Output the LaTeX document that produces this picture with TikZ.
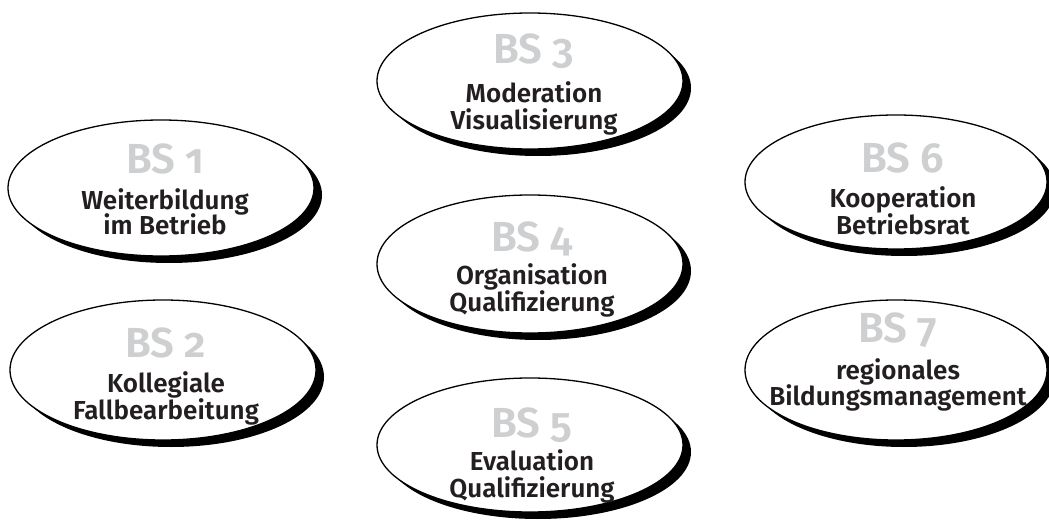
\documentclass[tikz,border=0pt]{standalone}
\usepackage{fontspec}
\IfFontExistsTF{Fira Sans SemiBold}
  {\setmainfont{Fira Sans}[BoldFont={Fira Sans SemiBold},Numbers=OldStyle]}
  {\setmainfont{Fira Sans}[Numbers=OldStyle]}
\usetikzlibrary{shapes.geometric,shadows}
\definecolor{bsgray}{RGB}{206,207,209}
\definecolor{txt}{RGB}{35,31,32}
\tikzset{
  bsell/.style={ellipse, draw=black, line width=1.3bp, fill=white,
    minimum width=306bp, minimum height=136bp, inner sep=0pt,
    drop shadow={shadow xshift=8bp, shadow yshift=-7bp, fill=black, opacity=1}},
  bsnum/.style={anchor=base, text=bsgray, inner sep=0pt,
    font=\fontsize{42bp}{42bp}\selectfont\bfseries},
  bstext/.style={anchor=base, text=txt, inner sep=0pt,
    font=\fontsize{26bp}{26bp}\selectfont\bfseries},
}
\begin{document}
\begin{tikzpicture}[x=1bp,y=-1bp]
\useasboundingbox (0,0) rectangle (1049,522);
% ellipses
\node[bsell] (e1) at (161,188) {};
\node[bsell, minimum height=140bp] (e2) at (163,370) {};
\node[bsell] (e3) at (530,81) {};
\node[bsell, minimum height=138bp] (e4) at (530,264) {};
\node[bsell, minimum height=134bp] (e5) at (530,445) {};
\node[bsell, minimum width=302bp, minimum height=134bp] (e6) at (896,182) {};
\node[bsell, minimum width=302bp, minimum height=140bp] (e7) at (896,370) {};
% BS 1
\node[bsnum] (n1) at (165,174) {BS 1};
\node[bstext] (a1) at (165,210) {Weiterbildung};
\node[bstext] (b1) at (165,235) {im Betrieb};
% BS 2
\node[bsnum] (n2) at (166,358) {BS 2};
\node[bstext] (a2) at (166,392) {Kollegiale};
\node[bstext] (b2) at (166,419) {Fallbearbeitung};
% BS 3
\node[bsnum] (n3) at (534,64) {BS 3};
\node[bstext] (a3) at (534,103) {Moderation};
\node[bstext] (b3) at (534,130) {Visualisierung};
% BS 4
\node[bsnum] (n4) at (532,252) {BS 4};
\node[bstext] (a4) at (532,285) {Organisation};
\node[bstext] (b4) at (532,312) {Qualifizierung};
% BS 5
\node[bsnum] (n5) at (532,437) {BS 5};
\node[bstext] (a5) at (532,470) {Evaluation};
\node[bstext] (b5) at (532,497) {Qualifizierung};
% BS 6
\node[bsnum] (n6) at (903,173) {BS 6};
\node[bstext] (a6) at (903,208) {Kooperation};
\node[bstext] (b6) at (903,235) {Betriebsrat};
% BS 7
\node[bsnum] (n7) at (898,343) {BS 7};
\node[bstext] (a7) at (898,380) {regionales};
\node[bstext] (b7) at (898,405) {Bildungsmanagement};
\end{tikzpicture}
\end{document}
